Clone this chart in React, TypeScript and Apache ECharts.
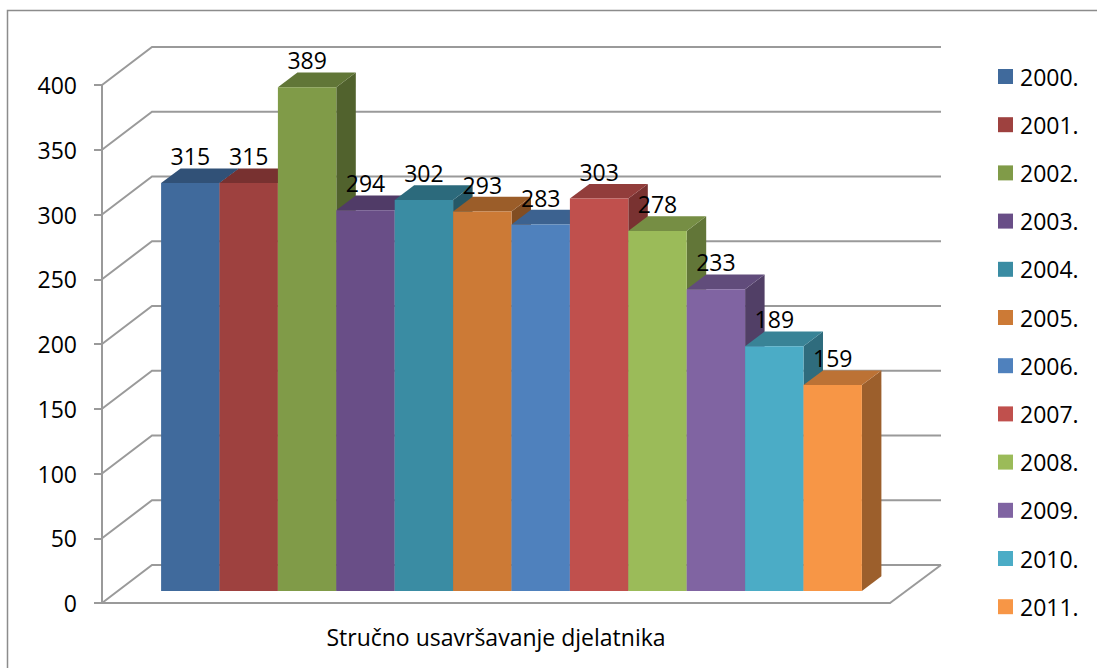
import React, { useEffect, useRef } from "react";
import * as echarts from "echarts";

const categories = ["Stručno usavršavanje djelatnika"];
const years = ["2000.", "2001.", "2002.", "2003.", "2004.", "2005.", "2006.", "2007.", "2008.", "2009.", "2010.", "2011."];
const values = [315, 315, 389, 294, 302, 293, 283, 303, 278, 233, 189, 159];
const colors = ["#406A9C", "#9E413F", "#809B48", "#694E87", "#3A8CA3", "#CC7A36", "#4F81BD", "#C0504D", "#9BBB59", "#8064A2", "#4BACC6", "#F79646"];
const ticks = [0, 50, 100, 150, 200, 250, 300, 350, 400];

const FONT = "Open Sans";
const GRAY = "#9a9a9a";
const WALL_DX = 50;
const WALL_DY = -38;
const BAR_PLANE_DX = 15.5;
const BAR_PLANE_DY = -12;
const BAR_W = 58.4;
const BAR_DX = 19.5;
const BAR_DY = -14.7;

function shade(hex: string, f: number) {
  const n = parseInt(hex.slice(1), 16);
  const c = [(n >> 16) & 255, (n >> 8) & 255, n & 255].map((v) => Math.round(v * f));
  return `rgb(${c[0]},${c[1]},${c[2]})`;
}

export default function App() {
  const ref = useRef<HTMLDivElement>(null);
  useEffect(() => {
    const chart = echarts.init(ref.current!, null, { renderer: "svg" });

    const wallSeries = {
      type: "custom",
      name: "walls",
      silent: true,
      z: 1,
      data: ticks.map((t) => [0, t]),
      encode: { x: 0, y: 1 },
      renderItem: (params: any, api: any) => {
        const cs = params.coordSys;
        const y = api.coord([0, api.value(1)])[1];
        const x0 = cs.x;
        const x1 = cs.x + cs.width;
        const style = { stroke: GRAY, lineWidth: 2, fill: "none" };
        const children: any[] = [
          { type: "polyline", shape: { points: [[x0, y], [x0 + WALL_DX, y + WALL_DY], [x1 + WALL_DX + 1, y + WALL_DY]] }, style },
        ];
        if (api.value(1) === 0) {
          children.push({ type: "polyline", shape: { points: [[x1, y], [x1 + WALL_DX + 1, y + WALL_DY]] }, style });
        }
        return { type: "group", children };
      },
    };

    const barSeries = years.map((year, i) => ({
      type: "custom",
      name: year,
      silent: true,
      z: 2,
      itemStyle: { color: colors[i] },
      data: [[0, values[i]]],
      encode: { x: 0, y: 1 },
      renderItem: (_params: any, api: any) => {
        const center = api.coord([0, 0]);
        const topPt = api.coord([0, api.value(1)]);
        const left = center[0] + BAR_PLANE_DX + (i - years.length / 2) * BAR_W;
        const right = left + BAR_W;
        const bottom = center[1] + BAR_PLANE_DY;
        const top = topPt[1] + BAR_PLANE_DY;
        const c = colors[i];
        return {
          type: "group",
          children: [
            {
              type: "polygon",
              shape: { points: [[right, top], [right + BAR_DX, top + BAR_DY], [right + BAR_DX, bottom + BAR_DY], [right, bottom]] },
              style: { fill: shade(c, 0.63) },
            },
            {
              type: "polygon",
              shape: { points: [[left, top], [left + BAR_DX, top + BAR_DY], [right + BAR_DX, top + BAR_DY], [right, top]] },
              style: { fill: shade(c, 0.76) },
            },
            { type: "rect", shape: { x: left, y: top, width: BAR_W, height: bottom - top }, style: { fill: c } },
            {
              type: "text",
              z2: 100,
              x: (left + right) / 2,
              y: top - 27,
              style: { text: String(api.value(1)), fill: "#000", font: `23px '${FONT}'`, align: "center", verticalAlign: "middle" },
            },
          ],
        };
      },
    }));

    chart.setOption({
      animation: false,
      backgroundColor: "#fff",
      textStyle: { fontFamily: FONT },
      grid: { left: 102, top: 85, width: 788, height: 518, containLabel: false },
      xAxis: {
        type: "category",
        data: categories,
        axisLine: { lineStyle: { color: GRAY, width: 2 } },
        axisTick: { length: 8, lineStyle: { color: GRAY, width: 2 } },
        axisLabel: { color: "#000", fontSize: 23, fontFamily: FONT, margin: 22 },
      },
      yAxis: {
        type: "value",
        min: 0,
        max: 400,
        interval: 50,
        splitLine: { show: false },
        axisLine: { show: true, lineStyle: { color: GRAY, width: 2 } },
        axisTick: { show: true, length: 8, lineStyle: { color: GRAY, width: 2 } },
        axisLabel: { color: "#000", fontSize: 23, fontFamily: FONT, margin: 25 },
      },
      legend: {
        orient: "vertical",
        left: 998,
        top: 65,
        itemWidth: 15,
        itemHeight: 15,
        itemGap: 25.2,
        icon: "rect",
        data: years,
        textStyle: { color: "#000", fontSize: 23, fontFamily: FONT, padding: [0, 0, 0, 2] },
        padding: 0,
        selectedMode: false,
      },
      graphic: [
        { type: "polyline", silent: true, shape: { points: [[7.5, 668], [7.5, 10.5], [1097, 10.5]] }, style: { stroke: "#8c8c8c", lineWidth: 1.5, fill: "none" } },
      ],
      series: [wallSeries, ...barSeries],
    });
    return () => chart.dispose();
  }, []);
  return <div ref={ref} style={{ position: "absolute", left: 0, top: 0, width: 1097, height: 668 }} />;
}
